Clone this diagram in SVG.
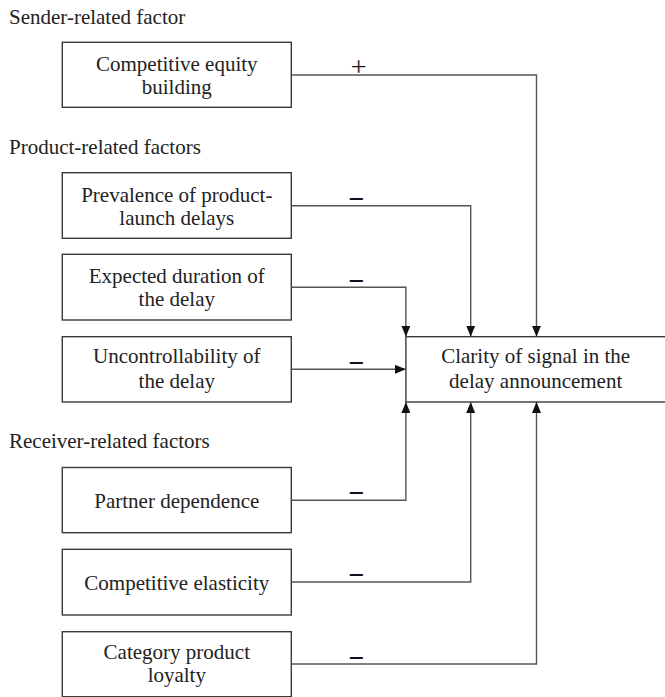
<svg xmlns="http://www.w3.org/2000/svg" width="665" height="697" viewBox="0 0 665 697">
<defs>
<style>
.box{fill:#fff;stroke:#3a3a3a;stroke-width:1.4}
.t{font-family:"Liberation Serif","Times New Roman",serif;font-size:21px;fill:#222;text-anchor:middle}
.lbl{font-family:"Liberation Serif","Times New Roman",serif;font-size:21px;fill:#222}
.sign{font-family:"Liberation Serif","Times New Roman",serif;font-size:28px;fill:#111;text-anchor:middle}
.minus{font-weight:bold}
.c{fill:none;stroke:#555;stroke-width:1.4}
</style>
<marker id="ah" viewBox="0 0 11 9" refX="11" refY="4.5" markerWidth="11" markerHeight="9" markerUnits="userSpaceOnUse" orient="auto">
<path d="M0,0 L11,4.5 L0,9 z" fill="#111"/>
</marker>
</defs>
<rect width="665" height="697" fill="#fff"/>
<g id="labels">
<text class="lbl" x="9" y="24">Sender-related factor</text>
<text class="lbl" x="9" y="154">Product-related factors</text>
<text class="lbl" x="9" y="448">Receiver-related factors</text>
</g>
<g id="n1"><rect class="box" x="62.3" y="42.3" width="229" height="65"/><text class="t" x="176.8" y="71">Competitive equity</text><text class="t" x="176.8" y="94">building</text></g>
<g id="n2"><rect class="box" x="62.3" y="172.7" width="229" height="65.6"/><text class="t" x="176.8" y="201.7">Prevalence of product-</text><text class="t" x="176.8" y="225">launch delays</text></g>
<g id="n3"><rect class="box" x="62.3" y="254.3" width="229" height="65.7"/><text class="t" x="176.8" y="282.7">Expected duration of</text><text class="t" x="176.8" y="306">the delay</text></g>
<g id="n4"><rect class="box" x="62.3" y="336.7" width="229" height="65.3"/><text class="t" x="176.8" y="363.3">Uncontrollability of</text><text class="t" x="176.8" y="388.3">the delay</text></g>
<g id="n5"><rect class="box" x="62.3" y="467.5" width="229" height="65.2"/><text class="t" x="176.8" y="508.3">Partner dependence</text></g>
<g id="n6"><rect class="box" x="62.3" y="549.3" width="229" height="65.7"/><text class="t" x="176.8" y="590">Competitive elasticity</text></g>
<g id="n7"><rect class="box" x="62.3" y="631.7" width="229" height="65"/><text class="t" x="176.8" y="659">Category product</text><text class="t" x="176.8" y="681.7">loyalty</text></g>
<g id="center"><rect class="box" x="405.9" y="336.7" width="262" height="65.3"/><text class="t" x="535.7" y="363.3">Clarity of signal in the</text><text class="t" x="535.7" y="388.3">delay announcement</text></g>
<g id="connectors">
<polyline class="c" points="291.3,75 536.5,75 536.5,336.7" marker-end="url(#ah)"/>
<polyline class="c" points="291.3,205.7 470.7,205.7 470.7,336.7" marker-end="url(#ah)"/>
<polyline class="c" points="291.3,287.3 405.9,287.3 405.9,336.7" marker-end="url(#ah)"/>
<polyline class="c" points="291.3,369.3 405.9,369.3" marker-end="url(#ah)"/>
<polyline class="c" points="291.3,500.3 405.9,500.3 405.9,402" marker-end="url(#ah)"/>
<polyline class="c" points="291.3,582 470.7,582 470.7,402" marker-end="url(#ah)"/>
<polyline class="c" points="291.3,664 536.5,664 536.5,402" marker-end="url(#ah)"/>
<text class="sign" x="358.7" y="75.5">+</text>
<text class="sign minus" x="356.6" y="208">−</text>
<text class="sign minus" x="356.6" y="289.5">−</text>
<text class="sign minus" x="356.6" y="371.5">−</text>
<text class="sign minus" x="356.6" y="501.5">−</text>
<text class="sign minus" x="356.6" y="583.5">−</text>
<text class="sign minus" x="356.6" y="666.5">−</text>
</g>
</svg>
